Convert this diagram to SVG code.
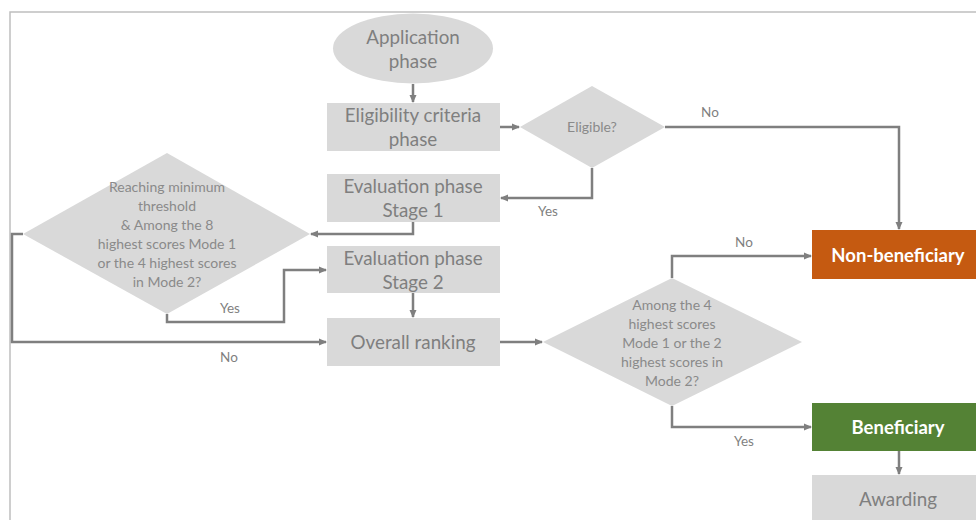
<svg xmlns="http://www.w3.org/2000/svg" width="976" height="520" viewBox="0 0 976 520">
<defs>
<marker id="ah" markerWidth="8" markerHeight="8" refX="7" refY="4" orient="auto" markerUnits="userSpaceOnUse">
<path d="M0,0.5 L8,4 L0,7.5 Z" fill="#7f7f7f"/>
</marker>
<style>
.box{fill:#d9d9d9}
.t{font-family:Lato,"Liberation Sans",sans-serif;fill:#7f7f7f;text-anchor:middle}
.big{font-size:18.8px}
.sm{font-size:14px;fill:#8a8a8a}
.lbl{font-family:Lato,"Liberation Sans",sans-serif;fill:#7f7f7f;font-size:13.5px;text-anchor:middle}
.wb{font-family:Lato,"Liberation Sans",sans-serif;fill:#ffffff;font-size:18.5px;font-weight:bold;text-anchor:middle}
.c{fill:none;stroke:#7f7f7f;stroke-width:2.5;marker-end:url(#ah)}
</style>
</defs>
<rect x="0" y="0" width="976" height="520" fill="#ffffff"/>
<path d="M10,520 V12 H976" fill="none" stroke="#bfbfbf" stroke-width="1.5"/>

<g id="application">
<ellipse class="box" cx="413" cy="48.5" rx="80" ry="35"/>
<text class="t big" x="413" y="44">Application</text>
<text class="t big" x="413" y="68">phase</text>
</g>
<g id="eligibility">
<rect class="box" x="327" y="103" width="173" height="48"/>
<text class="t big" x="413" y="122">Eligibility criteria</text>
<text class="t big" x="413" y="146">phase</text>
</g>
<g id="eligible">
<polygon class="box" points="520,127 592,86 665,127 592,168"/>
<text class="t sm" x="592" y="132">Eligible?</text>
</g>
<g id="stage1">
<rect class="box" x="327" y="174" width="173" height="48"/>
<text class="t big" x="413" y="193">Evaluation phase</text>
<text class="t big" x="413" y="217">Stage 1</text>
</g>
<g id="threshold">
<polygon class="box" points="23,234 167,153 310,234 167,314"/>
<text class="t sm" x="167" y="192">Reaching minimum</text>
<text class="t sm" x="167" y="211">threshold</text>
<text class="t sm" x="167" y="230">&amp; Among the 8</text>
<text class="t sm" x="167" y="249">highest scores Mode 1</text>
<text class="t sm" x="167" y="268">or the 4 highest scores</text>
<text class="t sm" x="167" y="287">in Mode 2?</text>
</g>
<g id="stage2">
<rect class="box" x="327" y="246" width="173" height="47"/>
<text class="t big" x="413" y="265">Evaluation phase</text>
<text class="t big" x="413" y="289">Stage 2</text>
</g>
<g id="ranking">
<rect class="box" x="327" y="318" width="173" height="48"/>
<text class="t big" x="413" y="349">Overall ranking</text>
</g>
<g id="top4">
<polygon class="box" points="543,342 672,278 802,342 672,406"/>
<text class="t sm" x="672" y="310">Among the 4</text>
<text class="t sm" x="672" y="329">highest scores</text>
<text class="t sm" x="672" y="348">Mode 1 or the 2</text>
<text class="t sm" x="672" y="367">highest scores in</text>
<text class="t sm" x="672" y="386">Mode 2?</text>
</g>
<g id="nonbeneficiary">
<rect x="812" y="230" width="164" height="49" fill="#c55a11"/>
<text class="wb" x="898" y="262">Non-beneficiary</text>
</g>
<g id="beneficiary">
<rect x="812" y="403" width="164" height="48" fill="#548235"/>
<text class="wb" x="898" y="434">Beneficiary</text>
</g>
<g id="awarding">
<rect class="box" x="812" y="475" width="164" height="45"/>
<text class="t big" x="898" y="506">Awarding</text>
</g>

<g id="connectors">
<path class="c" d="M413,84 V102"/>
<path class="c" d="M500,127 H519"/>
<path class="c" d="M665,127 H899 V229"/>
<path class="c" d="M592,168 V198 H501"/>
<path class="c" d="M413,222 V234 H311"/>
<path class="c" d="M167,314 V322 H284 V270 H326"/>
<path class="c" d="M23,234 H12 V342 H326"/>
<path class="c" d="M413,293 V317"/>
<path class="c" d="M500,342 H542"/>
<path class="c" d="M672,278 V256 H811"/>
<path class="c" d="M672,406 V427 H811"/>
<path class="c" d="M899,451 V474"/>
<text class="lbl" x="710" y="117">No</text>
<text class="lbl" x="548" y="216">Yes</text>
<text class="lbl" x="230" y="313">Yes</text>
<text class="lbl" x="229" y="362">No</text>
<text class="lbl" x="744" y="247">No</text>
<text class="lbl" x="744" y="446">Yes</text>
</g>
</svg>
